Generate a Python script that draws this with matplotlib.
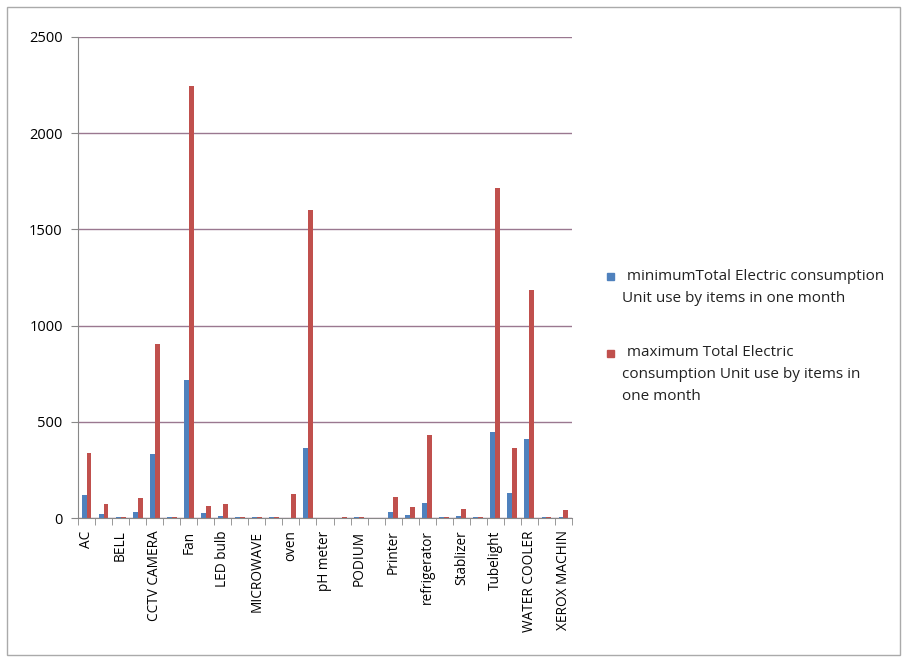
import numpy as np
import matplotlib.pyplot as plt

plt.rcParams['font.family'] = ['Open Sans', 'DejaVu Sans']

# 29 items; only every other label is printed on the axis
items = ['AC', 'AQUAGUARD', 'BELL', 'BULB', 'CCTV CAMERA', 'COMPUTER', 'Fan',
         'Hand dryer', 'LED bulb', 'LIFT', 'MICROWAVE', 'MIXER', 'oven', 'PC',
         'pH meter', 'Photocopier', 'PODIUM', 'POWER SUPPLY', 'Printer',
         'Projector', 'refrigerator', 'Speaker', 'Stablizer', 'Television',
         'Tubelight', 'UPS', 'WATER COOLER', 'WATER PUMP', 'XEROX MACHIN']
min_units = [120, 22, 3, 30, 333, 3, 717, 26, 8, 4, 3, 3, 1, 365, 2,
             2, 3, 2, 30, 18, 80, 3, 12, 3, 445, 130, 410, 3, 3]
max_units = [338, 73, 5, 104, 905, 3, 2245, 62, 75, 3, 3, 5, 125, 1600, 2,
             3, 3, 2, 110, 55, 430, 3, 45, 3, 1715, 365, 1185, 3, 40]

min_label = ['minimumTotal Electric consumption', 'Unit use by items in one month']
max_label = ['maximum Total Electric', 'consumption Unit use by items in', 'one month']
colors = ['#4f81bd', '#c0504d']

fig = plt.figure(figsize=(9.07, 6.62), dpi=100)
ax = fig.add_axes([78/907, 1-518/662, 494/907, 481/662])

x = np.arange(len(items))
w = 0.29
ax.bar(x - w/2, min_units, w, color=colors[0])
ax.bar(x + w/2, max_units, w, color=colors[1])

ax.set_xlim(-0.5, len(items) - 0.5)
ax.set_ylim(0, 2500)
ax.set_yticks(range(0, 2501, 500))
ax.yaxis.grid(True, color='#9a7890', linewidth=1)
ax.set_axisbelow(True)

ax.set_xticks(x[::2])
ax.set_xticklabels(items[::2], rotation=90, fontsize=9.8)
ax.set_xticks(np.arange(len(items) + 1) - 0.5, minor=True)
ax.tick_params(axis='x', which='major', length=0, pad=9)
ax.tick_params(axis='x', which='minor', length=5, color='#888888', direction='out')
ax.tick_params(axis='y', length=5, color='#888888', labelsize=10.5, pad=6)

for s in ['top', 'right']:
    ax.spines[s].set_visible(False)
for s in ['left', 'bottom']:
    ax.spines[s].set_color('#888888')

# legend: square marker inline with the first line, wrapped lines start under it
W, H = 907, 662
for lines, c, ytop in [(min_label, colors[0], 276), (max_label, colors[1], 353)]:
    fig.patches.append(plt.Rectangle((607/W, 1-(ytop+4)/H), 7/W, 7/H,
                                     color=c, transform=fig.transFigure))
    for i, line in enumerate(lines):
        fig.text((627 if i == 0 else 622)/W, 1-(ytop + 22*i)/H, line,
                 fontsize=11, va='center', ha='left', color='#222222')

fig.patches.append(plt.Rectangle((7/W, 7/H), 893/W, 648/H, fill=False,
                                 edgecolor='#aaaaaa', linewidth=1,
                                 transform=fig.transFigure))

fig.savefig('out.png', dpi=100)
